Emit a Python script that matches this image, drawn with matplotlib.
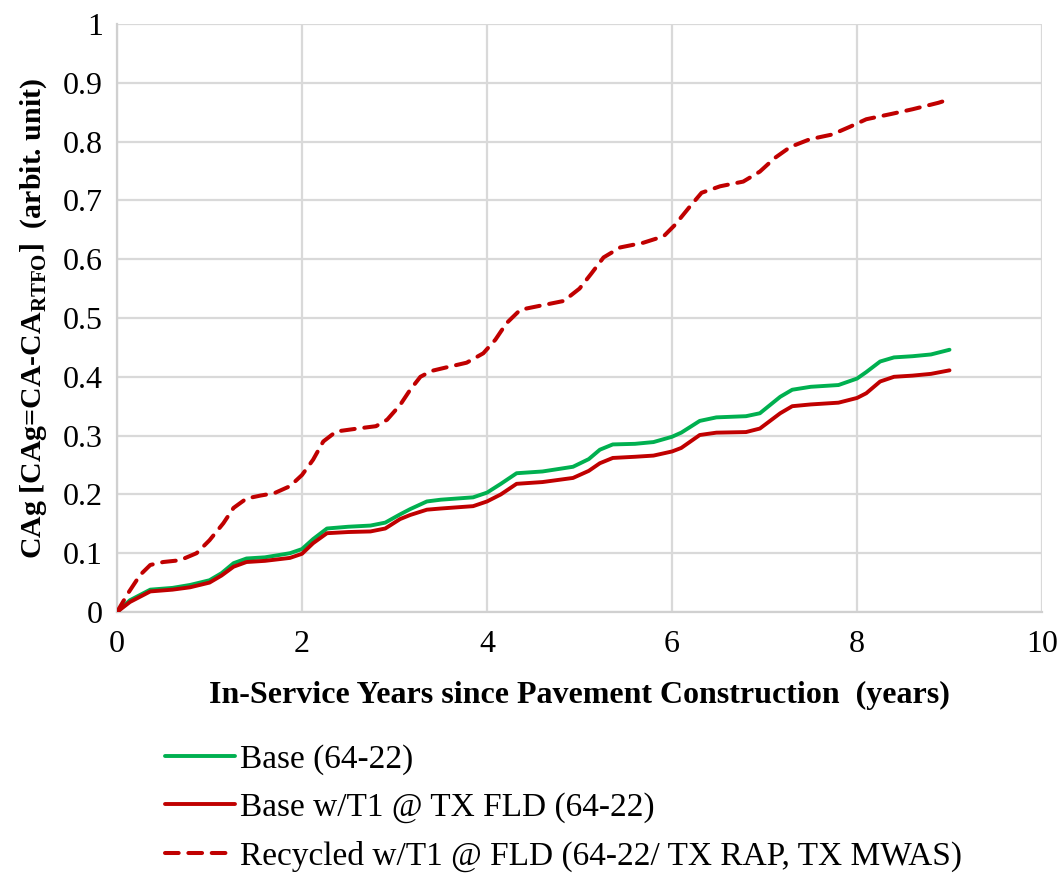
import matplotlib
matplotlib.use("Agg")
import matplotlib.pyplot as plt

# Cumulative carbonyl area growth vs. in-service years
years_base = [0, 0.14, 0.36, 0.6, 0.79, 1.0, 1.13, 1.26, 1.4, 1.6, 1.87, 2.0, 2.12,
              2.27, 2.5, 2.74, 2.9, 3.06, 3.17, 3.35, 3.5, 3.85, 4.0, 4.15, 4.32,
              4.6, 4.93, 5.1, 5.22, 5.36, 5.6, 5.8, 6.0, 6.1, 6.3, 6.48, 6.8,
              6.95, 7.17, 7.3, 7.5, 7.8, 8.0, 8.1, 8.25, 8.4, 8.6, 8.8, 9.0]

cag_base = [0, 0.020, 0.038, 0.041, 0.046, 0.054, 0.066, 0.083, 0.091, 0.093,
            0.100, 0.107, 0.124, 0.142, 0.145, 0.147, 0.152, 0.166, 0.175, 0.188,
            0.191, 0.195, 0.203, 0.218, 0.236, 0.239, 0.247, 0.260, 0.276, 0.285,
            0.286, 0.289, 0.298, 0.305, 0.325, 0.331, 0.333, 0.338, 0.366, 0.378,
            0.383, 0.386, 0.397, 0.408, 0.426, 0.433, 0.435, 0.438, 0.446]

cag_base_t1 = [0, 0.017, 0.035, 0.038, 0.042, 0.050, 0.062, 0.077, 0.085, 0.087,
               0.092, 0.099, 0.117, 0.134, 0.136, 0.137, 0.142, 0.158, 0.165, 0.174,
               0.176, 0.180, 0.188, 0.200, 0.218, 0.221, 0.228, 0.240, 0.253, 0.262,
               0.264, 0.266, 0.273, 0.279, 0.301, 0.305, 0.306, 0.312, 0.338, 0.350,
               0.353, 0.356, 0.364, 0.372, 0.392, 0.400, 0.402, 0.405, 0.411]

years_recycled = [0, 0.12, 0.25, 0.36, 0.5, 0.68, 0.86, 1.0, 1.15, 1.26, 1.4, 1.55,
                  1.7, 1.87, 2.0, 2.12, 2.23, 2.37, 2.6, 2.8, 2.92, 3.06, 3.17, 3.28,
                  3.4, 3.56, 3.78, 3.96, 4.09, 4.21, 4.36, 4.61, 4.83, 5.0, 5.13,
                  5.26, 5.44, 5.69, 5.91, 6.03, 6.18, 6.32, 6.52, 6.77, 6.95, 7.11,
                  7.28, 7.49, 7.73, 7.92, 8.1, 8.37, 8.6, 8.88, 9.0]

cag_recycled = [0, 0.032, 0.063, 0.080, 0.085, 0.088, 0.100, 0.122, 0.151, 0.177,
                0.193, 0.198, 0.202, 0.214, 0.233, 0.259, 0.290, 0.307, 0.312, 0.316,
                0.327, 0.352, 0.378, 0.400, 0.410, 0.416, 0.424, 0.440, 0.463, 0.491,
                0.514, 0.522, 0.529, 0.550, 0.576, 0.603, 0.620, 0.628, 0.639, 0.658,
                0.687, 0.713, 0.724, 0.732, 0.749, 0.772, 0.791, 0.804, 0.812, 0.825,
                0.838, 0.847, 0.855, 0.866, 0.872]

labels = ["Base (64-22)",
          "Base w/T1 @ TX FLD (64-22)",
          "Recycled w/T1 @ FLD (64-22/ TX RAP, TX MWAS)"]

x_ticks = [0, 2, 4, 6, 8, 10]
y_ticks = [0, 0.1, 0.2, 0.3, 0.4, 0.5, 0.6, 0.7, 0.8, 0.9, 1.0]
y_ticklabels = ["0", "0.1", "0.2", "0.3", "0.4", "0.5", "0.6", "0.7", "0.8", "0.9", "1"]

GREEN = "#00B050"
RED = "#C00000"
GRID = "#D9D9D9"

plt.rcParams["font.family"] = ["Liberation Serif", "DejaVu Serif"]

fig = plt.figure(figsize=(10.6, 8.73), dpi=100)
ax = fig.add_axes([117 / 1060, 1 - 612 / 873, (1042 - 117) / 1060, (612 - 24) / 873])

l1, = ax.plot(years_base, cag_base, color=GREEN, lw=2.8, label=labels[0],
              solid_joinstyle="round", solid_capstyle="round", zorder=3)
l2, = ax.plot(years_base, cag_base_t1, color=RED, lw=2.8, label=labels[1],
              solid_joinstyle="round", solid_capstyle="round", zorder=3)
l3, = ax.plot(years_recycled, cag_recycled, color=RED, lw=2.9, ls=(0, (3.4, 2.4)),
              label=labels[2], dash_capstyle="round", zorder=3)

ax.set_xlim(0, 10)
ax.set_ylim(0, 1)
ax.set_xticks(x_ticks)
ax.set_xticklabels([str(t) for t in x_ticks])
ax.set_yticks(y_ticks)
ax.set_yticklabels(y_ticklabels)
ax.tick_params(axis="both", length=0, labelsize=23, colors="#000000")
ax.tick_params(axis="x", pad=13)
ax.tick_params(axis="y", pad=10)

ax.grid(True, color=GRID, lw=1.6, zorder=0)
ax.set_axisbelow(True)
for side in ["top", "right"]:
    ax.spines[side].set_visible(False)
for side in ["left", "bottom"]:
    ax.spines[side].set_color("#D0D0D0")
    ax.spines[side].set_linewidth(1.6)

ax.set_xlabel("In-Service Years since Pavement Construction  (years)",
              fontsize=23, fontweight="bold", labelpad=16)
ax.set_ylabel(r"CAg [CAg=CA-CA$_{\mathregular{RTFO}}$]  (arbit. unit)",
              fontsize=21.5, fontweight="bold", labelpad=10)

fig.legend(handles=[l1, l2, l3], loc="upper left",
           bbox_to_anchor=(165 / 1060, 1 - 744 / 873), frameon=False,
           fontsize=24, handlelength=2.1, handletextpad=0.15, labelspacing=0.52,
           borderaxespad=0, borderpad=0)

fig.savefig("out.png", dpi=100, facecolor="white")
